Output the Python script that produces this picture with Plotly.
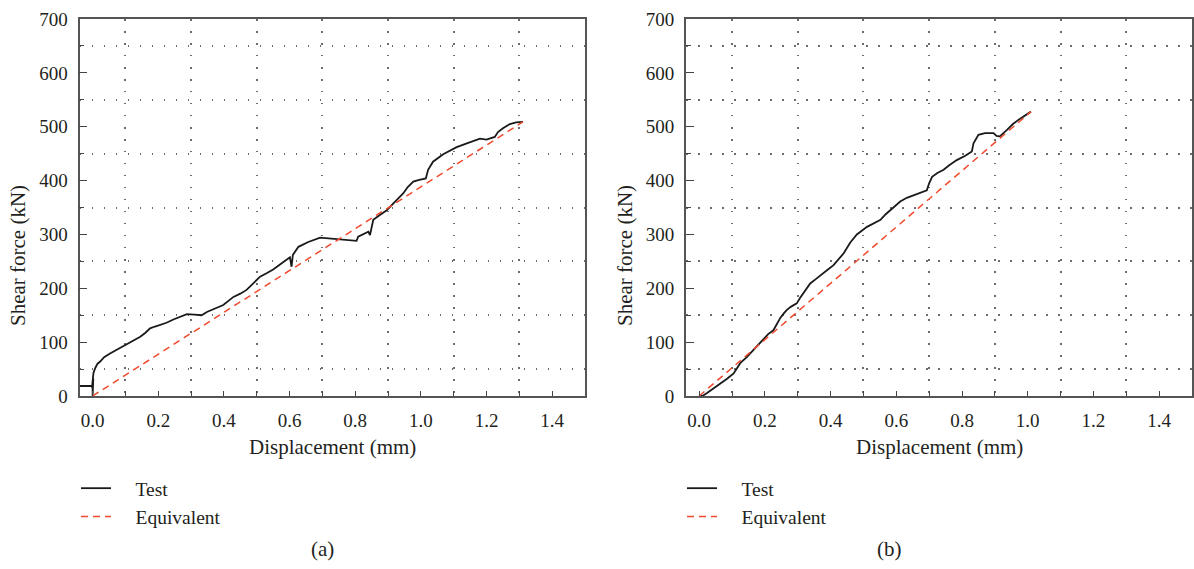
import plotly.graph_objects as go

# ---------------- data ----------------
# Panel (a)
a_test_x = [-0.04, 0.0, 0.0, 0.002, -0.002, 0.003, 0.0, 0.0025, 0.008, 0.015, 0.023, 0.035, 0.053, 0.07, 0.085,
            0.104, 0.125, 0.145, 0.16, 0.175, 0.19, 0.205, 0.225, 0.246, 0.265, 0.287, 0.31, 0.332, 0.348, 0.37,
            0.398, 0.429, 0.45, 0.469, 0.49, 0.51, 0.53, 0.55, 0.575, 0.601, 0.606, 0.61, 0.627, 0.657, 0.693,
            0.74, 0.804, 0.809, 0.825, 0.84, 0.845, 0.855, 0.875, 0.896, 0.92, 0.946, 0.96, 0.977, 0.992,
            1.015, 1.022, 1.037, 1.068, 1.109, 1.14, 1.164, 1.18, 1.2, 1.225, 1.235, 1.25, 1.271, 1.29, 1.311]
a_test_y = [18.6, 18.6, 0, 32, 15, 38, 25, 42.7, 52, 60, 64, 72, 79, 85, 89,
            96, 103, 110, 117, 125.7, 129, 132, 136, 142, 147, 152, 151, 150, 156, 162,
            169, 184, 190, 197, 209, 221.5, 228, 235, 246, 257.5, 240, 262, 277, 286, 294,
            291, 288, 296, 300, 305, 299, 327, 336, 345, 360, 376, 388, 398, 401,
            404, 420, 435, 449, 462, 469, 475, 478, 476, 481, 490, 497, 505, 508, 509]
a_eq_x = [0.0, 1.311]
a_eq_y = [0.0, 509]

# Panel (b)
b_test_x = [0.0, 0.01, 0.023, 0.04, 0.064, 0.085, 0.105, 0.115, 0.125, 0.145, 0.165, 0.18, 0.196, 0.21,
            0.226, 0.235, 0.247, 0.257, 0.267, 0.28, 0.297, 0.307, 0.318, 0.328, 0.338, 0.355, 0.373, 0.39,
            0.409, 0.425, 0.44, 0.46, 0.48, 0.511, 0.53, 0.552, 0.567, 0.582, 0.6, 0.612, 0.632, 0.652,
            0.672, 0.693, 0.7, 0.709, 0.725, 0.744, 0.76, 0.775, 0.784, 0.81, 0.83, 0.835, 0.85, 0.87,
            0.896, 0.905, 0.915, 0.937, 0.955, 0.977, 0.995, 1.01]
b_test_y = [0, 0, 5, 12, 23.5, 32, 42, 52, 61, 72, 85, 96, 107, 115,
            122, 133, 145, 153, 160, 166, 172, 182, 191, 200, 209, 217, 225, 234,
            243, 255, 265, 285, 300, 314, 320, 327, 337, 345, 355, 361, 368, 373,
            378, 382, 395, 407, 414, 420, 428, 435, 438, 446, 454, 469, 485, 488,
            488, 483, 482, 494, 505, 515, 523, 528]
b_eq_x = [0.0, 1.01]
b_eq_y = [0.0, 528]

x_tick_vals = [0.0, 0.2, 0.4, 0.6, 0.8, 1.0, 1.2, 1.4]
x_tick_text = ["0.0", "0.2", "0.4", "0.6", "0.8", "1.0", "1.2", "1.4"]
y_tick_vals = [0, 100, 200, 300, 400, 500, 600, 700]
series_names = ["Test", "Equivalent"]

# ---------------- figure ----------------
W, H = 1194, 569
FONT = "Liberation Serif"
TXT = "#231f20"
BLACK = "#1a1a1a"
RED = "#f04a2e"
PAD = "\u00a0" * 4  # gap between legend symbol and label

fig = go.Figure()

def add_panel(tx, ty, ex, ey, xa, ya, legend):
    fig.add_trace(go.Scatter(x=tx, y=ty, mode="lines", name=PAD + series_names[0],
                             line=dict(color=BLACK, width=1.8),
                             xaxis=xa, yaxis=ya, legend=legend, legendgroup=legend + "t"))
    fig.add_trace(go.Scatter(x=ex, y=ey, mode="lines", name=PAD + series_names[1],
                             line=dict(color=RED, width=1.5, dash="7px,5px"),
                             xaxis=xa, yaxis=ya, legend=legend, legendgroup=legend + "e"))

add_panel(a_test_x, a_test_y, a_eq_x, a_eq_y, "x", "y", "legend")
add_panel(b_test_x, b_test_y, b_eq_x, b_eq_y, "x2", "y2", "legend2")

y_dom = [1 - 396 / H, 1 - 19 / H]
xa_dom = [79.5 / W, 585 / W]
xb_dom = [686 / W, 1192 / W]

grid_style = dict(gridcolor="#6d6d6d", gridwidth=1.5, griddash="1.5px,10.5px")

def xaxis_cfg(dom, anchor):
    return dict(domain=dom, anchor=anchor, range=[-0.04, 1.5], automargin=False,
                tickmode="array", tickvals=x_tick_vals, ticktext=x_tick_text,
                ticks="inside", ticklen=5, tickwidth=1.3, tickcolor="#444",
                showgrid=False, zeroline=False,
                showline=True, linecolor="#555", linewidth=1.8, mirror=True,
                tickfont=dict(family=FONT, size=19, color=TXT),
                ticklabelstandoff=6,
                minor=dict(tick0=0.1, dtick=0.2, ticks="inside", ticklen=5, tickwidth=1.3,
                           tickcolor="#444", showgrid=True, **grid_style))

def yaxis_cfg(dom, anchor):
    return dict(domain=dom, anchor=anchor, range=[0, 700], automargin=False,
                tickmode="array", tickvals=y_tick_vals,
                ticks="inside", ticklen=8, tickwidth=1.3, tickcolor="#444",
                showgrid=False, zeroline=False,
                showline=True, linecolor="#555", linewidth=1.8, mirror=True,
                tickfont=dict(family=FONT, size=19, color=TXT),
                ticklabelstandoff=6,
                minor=dict(tick0=50, dtick=100, ticks="inside", ticklen=5, tickwidth=1.3,
                           tickcolor="#444", showgrid=True, **grid_style))

legend_common = dict(font=dict(family=FONT, size=19.5, color=TXT), bgcolor="rgba(0,0,0,0)",
                     xanchor="left", yanchor="top", tracegroupgap=0, itemwidth=30,
                     orientation="v")

fig.update_layout(
    width=W, height=H, autosize=False,
    margin=dict(l=0, r=0, t=0, b=0, autoexpand=False),
    paper_bgcolor="white", plot_bgcolor="white",
    font=dict(family=FONT, size=18, color=TXT),
    xaxis=xaxis_cfg(xa_dom, "y"),
    yaxis=yaxis_cfg(y_dom, "x"),
    xaxis2=xaxis_cfg(xb_dom, "y2"),
    yaxis2=yaxis_cfg(y_dom, "x2"),
    legend=dict(x=76 / W, y=1 - 469 / H, **legend_common),
    legend2=dict(x=682 / W, y=1 - 469 / H, **legend_common),
    showlegend=True,
)

# axis titles and panel labels
ann = dict(xref="paper", yref="paper", showarrow=False, xanchor="center", yanchor="middle",
           font=dict(family=FONT, size=21, color=TXT))
fig.add_annotation(x=332 / W, y=1 - 447 / H, text="Displacement (mm)", **ann)
fig.add_annotation(x=939 / W, y=1 - 447 / H, text="Displacement (mm)", **ann)
fig.add_annotation(x=18 / W, y=1 - 256 / H, text="Shear force (kN)", textangle=-90, **ann)
fig.add_annotation(x=625 / W, y=1 - 256 / H, text="Shear force (kN)", textangle=-90, **ann)
fig.add_annotation(x=322 / W, y=1 - 549 / H, text="(a)", **ann)
fig.add_annotation(x=889 / W, y=1 - 549 / H, text="(b)", **ann)

fig.write_html("out.html", post_script="document.body.style.margin='0';",
               config={"displayModeBar": False})
